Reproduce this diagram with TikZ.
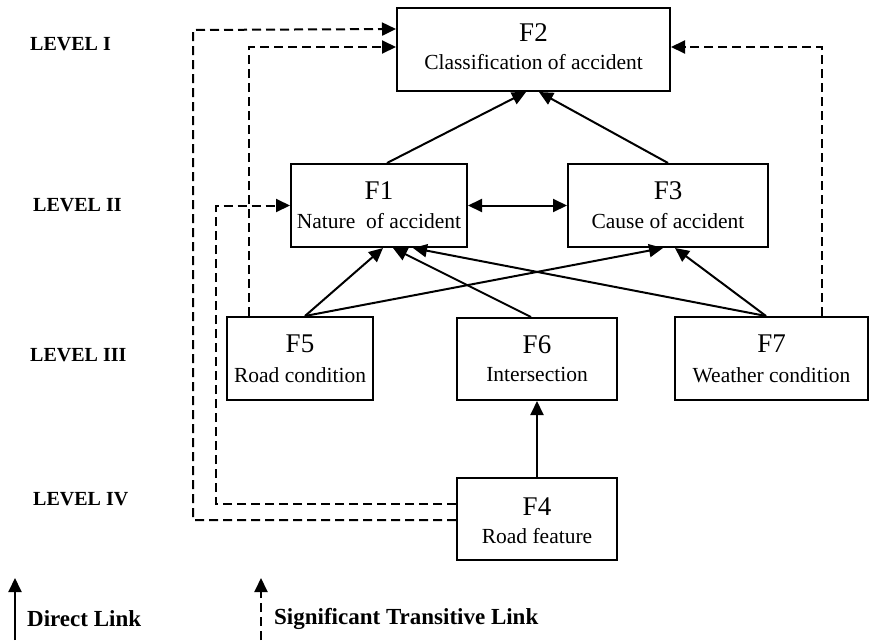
\documentclass[tikz,border=0pt]{standalone}
\usepackage{fontspec}
\setmainfont{Liberation Serif}
\usetikzlibrary{calc,arrows.meta}
\begin{document}
\begin{tikzpicture}[x=1pt,y=-1pt,
  box/.style={draw,line width=2pt,inner sep=0pt},
  flab/.style={anchor=base,inner sep=0pt,font=\fontsize{27}{30}\selectfont},
  dlab/.style={anchor=base,inner sep=0pt,font=\fontsize{21.5}{25}\selectfont},
  lev/.style={anchor=west,inner sep=0pt,font=\fontsize{20}{24}\selectfont\bfseries},
  leg/.style={anchor=west,inner sep=0pt,font=\fontsize{23}{27}\selectfont\bfseries},
  tip/.style={Triangle[length=14pt,width=13pt]},
  link/.style={line width=2pt,-{Triangle[length=14pt,width=13pt]}},
  tlink/.style={line width=2pt,dash pattern=on 9pt off 5pt,-{Triangle[length=14pt,width=13pt]}}]
\path[use as bounding box] (0,0) rectangle (870,643);

% boxes
\node[box,minimum width=273pt,minimum height=83pt] (F2) at (533.5,49.5) {};
\node[box,minimum width=176pt,minimum height=83pt] (F1) at (379,205.5) {};
\node[box,minimum width=200pt,minimum height=83pt] (F3) at (668,205.5) {};
\node[box,minimum width=146pt,minimum height=83pt] (F5) at (300,358.5) {};
\node[box,minimum width=160pt,minimum height=82pt] (F6) at (537,359) {};
\node[box,minimum width=193pt,minimum height=83pt] (F7) at (771.5,358.5) {};
\node[box,minimum width=160pt,minimum height=82pt] (F4) at (537,519) {};

% box texts
\node[flab] (F2a) at ($(F2.north)+(0,34)$) {F2};
\node[dlab] (F2b) at ($(F2.north)+(0,62)$) {Classification of accident};
\node[flab] (F1a) at ($(F1.north)+(0,36)$) {F1};
\node[dlab] (F1b) at ($(F1.north)+(0,65)$) {Nature\ \ of accident};
\node[flab] (F3a) at ($(F3.north)+(0,36)$) {F3};
\node[dlab] (F3b) at ($(F3.north)+(0,65)$) {Cause of accident};
\node[flab] (F5a) at ($(F5.north)+(0,36)$) {F5};
\node[dlab] (F5b) at ($(F5.north)+(0,66)$) {Road condition};
\node[flab] (F6a) at ($(F6.north)+(0,36)$) {F6};
\node[dlab] (F6b) at ($(F6.north)+(0,64)$) {Intersection};
\node[flab] (F7a) at ($(F7.north)+(0,36)$) {F7};
\node[dlab] (F7b) at ($(F7.north)+(0,66)$) {Weather condition};
\node[flab] (F4a) at ($(F4.north)+(0,38)$) {F4};
\node[dlab] (F4b) at ($(F4.north)+(0,66)$) {Road feature};

% level labels
\node[lev] (L1) at (30,44) {LEVEL I};
\node[lev] (L2) at (33,205) {LEVEL II};
\node[lev] (L3) at (30,355) {LEVEL III};
\node[lev] (L4) at (33,499) {LEVEL IV};

% direct links
\draw[link] ($(F1.north west)+(97,0)$) -- ($(F2.south west)+(130,0)$);
\draw[link] ($(F3.north west)+(101,0)$) -- ($(F2.south west)+(143,0)$);
\draw[line width=2pt,{Triangle[length=14pt,width=13pt]}-{Triangle[length=14pt,width=13pt]}] (F1.east) -- (F3.west);
\draw[link] ($(F5.north west)+(79,0)$) -- ($(F1.south west)+(93,0)$);
\draw[link] ($(F5.north west)+(79,0)$) -- ($(F3.south west)+(96,0)$);
\draw[link] ($(F6.north west)+(75,0)$) -- ($(F1.south west)+(103,0)$);
\draw[link] ($(F7.north west)+(92,0)$) -- ($(F1.south west)+(123,0)$);
\draw[link] ($(F7.north west)+(92,0)$) -- ($(F3.south west)+(108,0)$);
\draw[link] (F4.north) -- (F6.south);

% transitive links
\coordinate (outer) at (193,30);
\coordinate (inner) at (216,205.5);
\draw[tlink] ($(F5.north west)+(23,0)$) |- ($(F2.north west)+(0,40)$);
\draw[tlink] ($(F7.north west)+(148,0)$) |- ($(F2.north east)+(0,40)$);
\draw[tlink] ($(F4.north west)+(0,43)$) -| (outer) -- ($(F2.north west)+(0,22)$);
\draw[tlink] ($(F4.north west)+(0,27)$) -| (inner) -- (F1.west);

% legend
\coordinate (d0) at (15,640);
\coordinate (d1) at (15,578);
\coordinate (t0) at (261,640);
\coordinate (t1) at (261,578);
\draw[link] (d0) -- (d1);
\draw[tlink] (t0) -- (t1);
\node[leg] (lg1) at (27,619) {Direct Link};
\node[leg] (lg2) at (274,619) {Significant Transitive Link};
\end{tikzpicture}
\end{document}
